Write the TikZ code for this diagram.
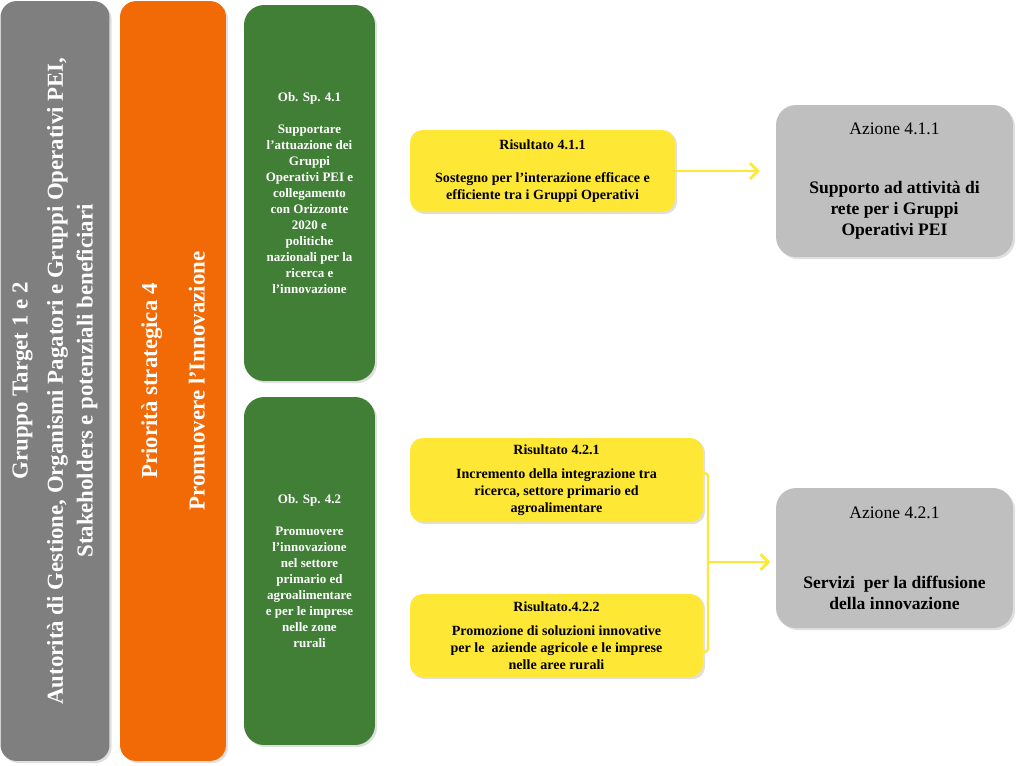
\documentclass[tikz,border=0pt]{standalone}
\usepackage{fontspec}
\setmainfont{Liberation Serif}
\usetikzlibrary{arrows.meta,shadows}

\definecolor{grigioscuro}{HTML}{7F7F7F}
\definecolor{arancio}{HTML}{F26A05}
\definecolor{verde}{HTML}{417F37}
\definecolor{giallo}{HTML}{FFE835}
\definecolor{grigiochiaro}{HTML}{BFBFBF}

\tikzset{
  ombra/.style={drop shadow={shadow xshift=1.2pt, shadow yshift=-1.2pt, opacity=0.25}},
  colonna/.style={rounded corners=0.32cm, text=white, font=\fontsize{13}{17}\selectfont\bfseries, align=center, inner sep=0pt, ombra},
  obiettivo/.style={rounded corners=0.4cm, fill=verde, text=white, font=\fontsize{7.4}{9.1}\selectfont\bfseries, align=center, minimum width=2.62cm, inner sep=0pt, ombra},
  risultato/.style={rounded corners=0.25cm, fill=giallo, font=\fontsize{8}{9.6}\selectfont\bfseries, align=center, inner sep=0pt, ombra},
  azione/.style={rounded corners=0.4cm, fill=grigiochiaro, font=\fontsize{10}{12}\selectfont, align=center, minimum width=4.74cm, inner sep=0pt, ombra},
  freccia/.style={draw=giallo, line width=1.6pt, -{Straight Barb[length=4.5pt, width=9pt]}},
  staffa/.style={draw=giallo, line width=1.3pt, rounded corners=2pt}
}

\begin{document}
\begin{tikzpicture}[x=0.02cm, y=-0.02cm]
    \useasboundingbox (0,0) rectangle (1024,765);
    %colonne verticali
    \node[colonna, fill=grigioscuro, rotate=90, minimum width=15.2cm, minimum height=2.18cm] (target) at (55,381)
        {Gruppo Target 1 e 2\\[3pt] Autorità di Gestione, Organismi Pagatori e Gruppi Operativi PEI,\\ Stakeholders e potenziali beneficiari};
    \node[colonna, fill=arancio, rotate=90, minimum width=15.2cm, minimum height=2.12cm] (priorita) at (173,381)
        {Priorità strategica 4\\[10pt] Promuovere l'Innovazione};
    %obiettivi specifici
    \node[obiettivo, minimum height=7.52cm] (ob41) at (309.5,193)
        {Ob. Sp. 4.1\\[9pt] Supportare\\ l'attuazione dei\\ Gruppi\\ Operativi PEI e\\ collegamento\\ con Orizzonte\\ 2020 e\\ politiche\\ nazionali per la\\ ricerca e\\ l'innovazione};
    \node[obiettivo, minimum height=6.96cm] (ob42) at (309.5,571)
        {Ob. Sp. 4.2\\[9pt] Promuovere\\ l'innovazione\\ nel settore\\ primario ed\\ agroalimentare\\ e per le imprese\\ nelle zone\\ rurali};
    %risultati
    \node[risultato, minimum width=5.3cm, minimum height=1.64cm] (r411) at (542.5,171)
        {Risultato 4.1.1\\[9pt] Sostegno per l'interazione efficace e\\ efficiente tra i Gruppi Operativi};
    \node[risultato, minimum width=5.86cm, minimum height=1.68cm] (r421) at (556.5,480)
        {Risultato 4.2.1\\[4pt] Incremento della integrazione tra\\ ricerca, settore primario ed\\ agroalimentare};
    \node[risultato, minimum width=5.86cm, minimum height=1.66cm] (r422) at (556.5,635.5)
        {Risultato.4.2.2\\[4pt] Promozione di soluzioni innovative\\ per le~ aziende agricole e le imprese\\ nelle aree rurali};
    %azioni
    \node[azione, minimum height=3.04cm] (a411) at (894.5,181)
        {Azione 4.1.1\\[22pt] \bfseries Supporto ad attività di\\ \bfseries rete per i Gruppi\\ \bfseries Operativi PEI};
    \node[azione, minimum height=2.8cm] (a421) at (894.5,558)
        {Azione 4.2.1\\[28pt] \bfseries Servizi~ per la diffusione\\ \bfseries della innovazione};
    %frecce
    \coordinate (giunto) at (708,562);
    \draw[freccia, shorten >=9pt] (r411.east) -- (r411.east -| a411.west);
    \draw[staffa] ([yshift=0.14cm]r421.east) -| (giunto) |- ([yshift=-0.33cm]r422.east);
    \draw[freccia, shorten >=3pt] (giunto) -- (giunto -| a421.west);
\end{tikzpicture}
\end{document}
